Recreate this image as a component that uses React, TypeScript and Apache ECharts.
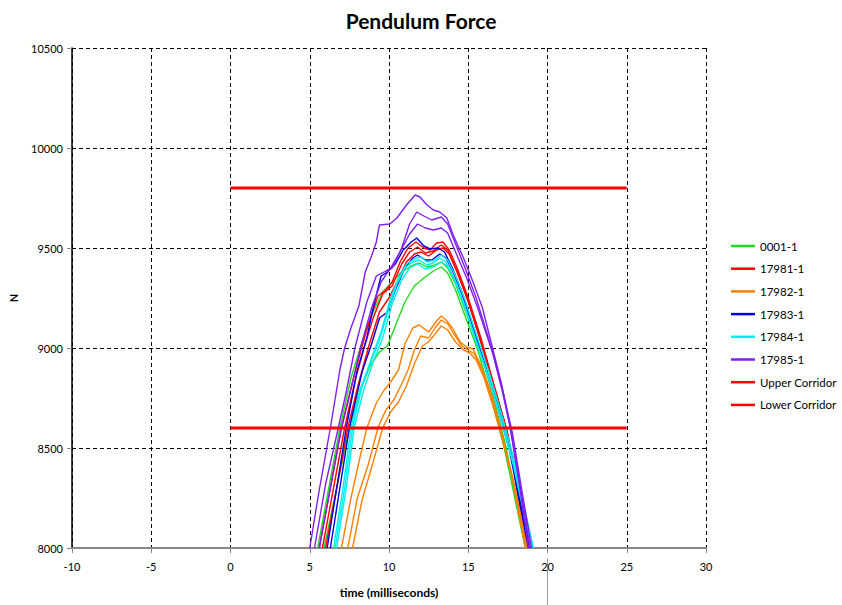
import React, { useEffect, useRef } from "react";
import * as echarts from "echarts";

const xTicks = { min: -10, max: 30, interval: 5 };
const yTicks = { min: 8000, max: 10500, interval: 500 };

const g1 = [[5.5,8000],[6.2,8300],[6.9,8600],[7.6,8850],[8.3,9030],[9.0,9180],[9.6,9280],[10.2,9330],[10.8,9380],[11.4,9410],[11.9,9425],[12.4,9405],[12.9,9415],[13.3,9430],[13.7,9400],[14.2,9320],[14.8,9190],[15.7,9000],[16.5,8780],[17.4,8500],[18.6,8000]];
const g2 = [[5.9,8000],[6.7,8300],[7.5,8600],[8.2,8790],[8.8,8910],[9.4,8980],[9.9,9010],[10.4,9110],[11.0,9230],[11.6,9310],[12.2,9350],[12.8,9385],[13.3,9405],[13.7,9375],[14.2,9290],[14.8,9160],[15.6,8990],[16.4,8770],[17.3,8490],[18.6,8000]];

const r1 = [[5.6,8000],[6.3,8300],[7.0,8600],[7.6,8800],[8.2,8980],[8.7,9120],[9.3,9260],[9.8,9290],[10.2,9330],[10.7,9430],[11.2,9500],[11.7,9530],[12.2,9500],[12.6,9490],[13.0,9525],[13.4,9530],[13.8,9490],[14.3,9400],[15.0,9250],[15.8,9050],[16.5,8850],[17.5,8570],[18.7,8000]];
const r2 = [[5.8,8000],[6.5,8300],[7.2,8600],[7.9,8850],[8.5,9020],[9.0,9150],[9.6,9270],[10.2,9310],[10.8,9420],[11.3,9480],[11.8,9505],[12.3,9475],[12.8,9485],[13.3,9515],[13.7,9490],[14.2,9400],[14.9,9260],[15.6,9080],[16.4,8870],[17.4,8600],[18.8,8000]];
const r3 = [[6.0,8000],[6.7,8300],[7.4,8600],[8.1,8830],[8.8,9030],[9.4,9180],[10.0,9250],[10.5,9330],[11.1,9430],[11.6,9470],[12.0,9480],[12.5,9460],[13.0,9490],[13.4,9500],[13.8,9470],[14.3,9380],[15.0,9230],[15.7,9060],[16.5,8840],[17.5,8560],[18.9,8000]];

const o1 = [[7.0,8000],[7.6,8250],[8.1,8430],[8.6,8600],[9.2,8725],[9.7,8790],[10.1,8830],[10.6,8890],[11.0,9020],[11.5,9100],[11.9,9115],[12.5,9080],[13.0,9135],[13.3,9160],[13.6,9140],[14.0,9100],[14.5,9030],[14.9,9005],[15.3,8995],[15.7,8930],[16.4,8790],[17.0,8610],[17.7,8380],[18.6,8000]];
const o2 = [[7.4,8000],[8.0,8250],[8.7,8420],[9.3,8600],[9.8,8690],[10.3,8740],[10.8,8820],[11.2,8890],[11.6,8990],[12.0,9060],[12.5,9050],[12.9,9100],[13.3,9140],[13.7,9120],[14.1,9070],[14.6,9010],[15.0,8990],[15.4,8970],[15.8,8900],[16.5,8750],[17.1,8570],[17.8,8350],[18.7,8000]];
const o3 = [[7.7,8000],[8.3,8240],[9.0,8430],[9.6,8600],[10.1,8680],[10.6,8730],[11.1,8810],[11.6,8920],[12.1,9010],[12.5,9030],[12.9,9070],[13.3,9110],[13.7,9090],[14.2,9030],[14.7,8990],[15.1,8975],[15.5,8940],[16.0,8850],[16.6,8700],[17.2,8530],[17.9,8320],[18.8,8000]];

const b1 = [[6.1,8000],[6.8,8350],[7.3,8600],[8.0,8890],[8.6,9050],[9.0,9200],[9.5,9360],[9.9,9380],[10.4,9420],[10.9,9490],[11.4,9530],[11.75,9550],[12.2,9510],[12.6,9495],[13.1,9500],[13.5,9480],[14.0,9400],[14.6,9280],[15.3,9110],[16.0,8930],[16.8,8720],[17.6,8490],[18.8,8000]];
const b2 = [[6.3,8000],[7.0,8350],[7.5,8600],[8.3,8880],[8.9,9020],[9.4,9150],[9.9,9180],[10.4,9290],[11.0,9400],[11.5,9450],[11.8,9465],[12.3,9440],[12.7,9440],[13.2,9470],[13.6,9450],[14.1,9370],[14.7,9250],[15.4,9080],[16.1,8900],[16.9,8700],[17.7,8470],[18.9,8000]];

const c1 = [[6.5,8000],[7.1,8300],[7.6,8600],[8.2,8800],[8.8,8920],[9.4,9040],[10.0,9200],[10.5,9320],[11.0,9400],[11.5,9430],[11.9,9440],[12.4,9415],[12.8,9425],[13.2,9450],[13.6,9430],[14.1,9350],[14.7,9230],[15.4,9060],[16.2,8870],[17.0,8660],[17.8,8430],[19.0,8000]];
const c2 = [[6.7,8000],[7.3,8300],[7.8,8600],[8.4,8790],[9.0,8930],[9.6,9050],[10.2,9220],[10.8,9340],[11.3,9400],[11.8,9420],[12.3,9395],[12.8,9405],[13.3,9430],[13.7,9410],[14.2,9330],[14.8,9200],[15.5,9030],[16.3,8850],[17.1,8640],[17.9,8410],[19.1,8000]];
const c3 = [[6.6,8000],[7.2,8300],[7.7,8600],[8.3,8810],[8.9,8950],[9.5,9080],[10.1,9250],[10.6,9350],[11.1,9420],[11.6,9445],[12.0,9455],[12.4,9430],[12.9,9440],[13.3,9465],[13.7,9440],[14.2,9360],[14.8,9240],[15.5,9070],[16.3,8880],[17.1,8670],[17.9,8440],[19.1,8000]];

const p1 = [[5.0,8000],[5.6,8290],[6.3,8600],[6.9,8890],[7.2,9000],[7.6,9100],[8.1,9210],[8.5,9380],[8.9,9460],[9.2,9530],[9.4,9615],[10.05,9620],[10.5,9650],[11.1,9715],[11.65,9765],[11.95,9755],[12.4,9715],[12.8,9690],[13.2,9680],[13.65,9650],[14.05,9565],[14.7,9450],[15.3,9330],[15.9,9200],[16.5,9010],[17.1,8820],[17.6,8620],[18.2,8330],[18.8,8000]];
const p2 = [[5.3,8000],[6.0,8320],[6.8,8600],[7.3,8780],[7.85,9000],[8.6,9230],[9.2,9360],[9.8,9385],[10.2,9400],[10.8,9500],[11.3,9620],[11.75,9680],[12.2,9660],[12.7,9640],[13.3,9655],[13.7,9620],[14.2,9520],[14.8,9400],[15.5,9250],[16.5,8990],[17.1,8800],[17.7,8590],[18.3,8300],[18.9,8000]];
const p3 = [[5.6,8000],[6.3,8300],[7.0,8600],[7.5,8760],[8.2,9000],[8.9,9200],[9.5,9330],[10.1,9400],[10.7,9480],[11.3,9570],[11.8,9620],[12.3,9600],[12.8,9590],[13.3,9600],[13.7,9575],[14.2,9480],[14.9,9350],[15.6,9200],[16.6,8960],[17.2,8780],[17.8,8570],[18.4,8280],[19.0,8000]];

const upperCorridor = [[0, 9800], [25, 9800]];
const lowerCorridor = [[0, 8600], [25, 8600]];

const legendNames = ["0001-1", "17981-1", "17982-1", "17983-1", "17984-1", "17985-1", "Upper Corridor", "Lower Corridor"];

const groups = [
  { name: "0001-1", color: "#1edc1e", curves: [g1, g2] },
  { name: "17981-1", color: "#ff0000", curves: [r1, r2, r3] },
  { name: "17982-1", color: "#ff8000", curves: [o1, o2, o3] },
  { name: "17983-1", color: "#0000e0", curves: [b1, b2] },
  { name: "17984-1", color: "#00eeee", curves: [c1, c2, c3] },
  { name: "17985-1", color: "#8020f0", curves: [p1, p2, p3] },
];

const FONT = "Lato, 'Open Sans', sans-serif";

export default function App() {
  const ref = useRef<HTMLDivElement>(null);
  useEffect(() => {
    if (!ref.current) return;
    const chart = echarts.init(ref.current, null, { renderer: "svg" });
    const series: any[] = [];
    groups.forEach((g) => {
      g.curves.forEach((c) => {
        series.push({
          name: g.name,
          type: "line",
          data: c,
          symbol: "none",
          color: g.color,
          lineStyle: { color: g.color, width: 1.4 },
          clip: true,
        });
      });
    });
    series.push({
      name: "Upper Corridor",
      type: "line",
      data: upperCorridor,
      symbol: "none",
      color: "#ff0000",
      lineStyle: { color: "#ff0000", width: 3 },
    });
    series.push({
      name: "Lower Corridor",
      type: "line",
      data: lowerCorridor,
      symbol: "none",
      color: "#ff0000",
      lineStyle: { color: "#ff0000", width: 3 },
    });
    chart.setOption({
      animation: false,
      backgroundColor: "#ffffff",
      title: {
        text: "Pendulum Force",
        left: "center",
        top: 5,
        textStyle: { fontFamily: FONT, fontWeight: "bold", fontSize: 21, color: "#000" },
      },
      legend: {
        orient: "vertical",
        left: 731,
        top: 240,
        padding: 0,
        icon: "rect",
        itemWidth: 24,
        itemHeight: 2.5,
        itemGap: 10.7,
        textStyle: { fontFamily: FONT, fontSize: 11.5, color: "#000" },
        data: legendNames,
      },
      grid: { left: 72, right: 136, top: 48, bottom: 57, containLabel: false },
      xAxis: {
        type: "value",
        min: xTicks.min,
        max: xTicks.max,
        interval: xTicks.interval,
        name: "time (milliseconds)",
        nameLocation: "middle",
        nameGap: 38,
        nameTextStyle: { fontFamily: FONT, fontWeight: "bold", fontSize: 12, color: "#000" },
        axisLine: { show: true, onZero: false, lineStyle: { color: "#888", width: 2 } },
        axisTick: { show: true, inside: false, length: 5, lineStyle: { color: "#888" } },
        axisLabel: { fontFamily: FONT, fontSize: 11, color: "#000", margin: 13 },
        splitLine: { show: true, lineStyle: { color: "#000", type: [4, 3], width: 1 } },
      },
      yAxis: {
        type: "value",
        min: yTicks.min,
        max: yTicks.max,
        interval: yTicks.interval,
        name: "N",
        nameLocation: "middle",
        nameGap: 53,
        nameRotate: 90,
        nameTextStyle: { fontFamily: FONT, fontWeight: "bold", fontSize: 11, color: "#000" },
        axisLine: { show: true, onZero: false, lineStyle: { color: "#000", width: 1.5 } },
        axisTick: { show: true, inside: false, length: 5, lineStyle: { color: "#888" } },
        axisLabel: { fontFamily: FONT, fontSize: 11, color: "#000", margin: 9, formatter: (v: number) => String(v) },
        splitLine: { show: true, lineStyle: { color: "#000", type: [4, 3], width: 1 } },
      },
      graphic: [
        {
          type: "line",
          shape: { x1: 547.5, y1: 558, x2: 547.5, y2: 605 },
          style: { stroke: "#999", lineWidth: 1 },
        },
      ],
      series,
    });
    return () => chart.dispose();
  }, []);
  return <div ref={ref} style={{ width: 842, height: 605, position: "absolute", left: 0, top: 0 }} />;
}
